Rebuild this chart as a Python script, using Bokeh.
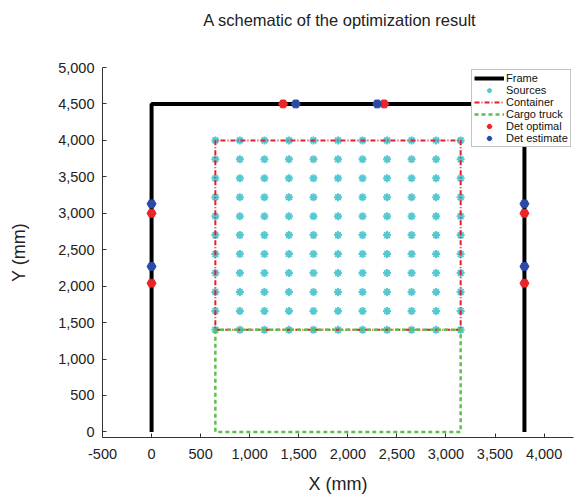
from bokeh.plotting import figure
from bokeh.models import Range1d, NumeralTickFormatter, FixedTicker, Legend, LegendItem, Div
from bokeh.layouts import column
from bokeh.embed import file_html
from bokeh.resources import INLINE

# ---- data (mm) ----
frame_x = [0, 0, 3800, 3800]
frame_y = [0, 4500, 4500, 0]

container_x = [650, 3150, 3150, 650, 650]
container_y = [1400, 1400, 4000, 4000, 1400]

truck_x = [650, 650, 3150, 3150, 650]
truck_y = [1400, 0, 0, 1400, 1400]

src_x_levels = [650, 900, 1150, 1400, 1650, 1900, 2150, 2400, 2650, 2900, 3150]
src_y_levels = [1400, 1660, 1920, 2180, 2440, 2700, 2960, 3220, 3480, 3740, 4000]

det_opt_x = [1340, 2370, 0, 0, 3800, 3800]
det_opt_y = [4500, 4500, 3000, 2040, 3000, 2040]

det_est_x = [1470, 2300, 0, 0, 3800, 3800]
det_est_y = [4500, 4500, 3130, 2270, 3130, 2270]

x_ticks = [-500, 0, 500, 1000, 1500, 2000, 2500, 3000, 3500, 4000]
y_ticks = [0, 500, 1000, 1500, 2000, 2500, 3000, 3500, 4000, 4500, 5000]

src_x = [x for y in src_y_levels for x in src_x_levels]
src_y = [y for y in src_y_levels for x in src_x_levels]

FONT = "Liberation Sans"
TITLE_H = 40

p = figure(width=583, height=499 - TITLE_H, output_backend="svg", toolbar_location=None,
           x_range=Range1d(-500, 4300), y_range=Range1d(-77, 5000),
           min_border_left=102, min_border_right=10, min_border_top=67 - TITLE_H,
           min_border_bottom=62)

p.outline_line_color = None
p.xgrid.visible = False
p.ygrid.visible = False
p.background_fill_color = "white"
p.border_fill_color = "white"

for ax, ticks in ((p.xaxis[0], x_ticks), (p.yaxis[0], y_ticks)):
    ax.ticker = FixedTicker(ticks=ticks)
    ax.formatter = NumeralTickFormatter(format="0,0")
    ax.major_tick_in = 4
    ax.major_tick_out = 0
    ax.minor_tick_line_color = None
    ax.axis_line_color = "#333333"
    ax.major_tick_line_color = "#333333"
    ax.major_label_text_font = FONT
    ax.major_label_text_font_size = "14.5px"
    ax.major_label_text_color = "#222222"
    ax.axis_label_text_font = FONT
    ax.axis_label_text_font_size = "18px"
    ax.axis_label_text_font_style = "normal"
    ax.axis_label_text_color = "#222222"

p.xaxis.axis_label = "X (mm)"
p.yaxis.axis_label = "Y (mm)"
p.xaxis.major_label_standoff = 11
p.yaxis.major_label_standoff = 8
p.xaxis.axis_label_standoff = 12
p.yaxis.axis_label_standoff = 26

r_frame = p.line(frame_x, frame_y, line_color="black", line_width=4)
r_src = p.scatter(src_x, src_y, marker="asterisk", size=8, line_color="#55c8d2", line_width=2)
r_cont = p.line(container_x, container_y, line_color="#e02030", line_width=2, line_dash="5 2 1 2")
r_truck = p.line(truck_x, truck_y, line_color="#5cc04a", line_width=2.5, line_dash="4 3")
r_opt = p.scatter(det_opt_x, det_opt_y, marker="hex", size=9, fill_color="#e8262a", line_color="#e8262a")
r_est = p.scatter(det_est_x, det_est_y, marker="hex", size=9, fill_color="#2a4aa8", line_color="#2a4aa8")

legend = Legend(items=[
    LegendItem(label="Frame", renderers=[r_frame]),
    LegendItem(label="Sources", renderers=[r_src]),
    LegendItem(label="Container", renderers=[r_cont]),
    LegendItem(label="Cargo truck", renderers=[r_truck]),
    LegendItem(label="Det optimal", renderers=[r_opt]),
    LegendItem(label="Det estimate", renderers=[r_est]),
], location=(369, 290))
legend.label_text_font = FONT
legend.label_text_font_size = "11px"
legend.label_text_color = "#111111"
legend.label_height = 12
legend.glyph_height = 12
legend.glyph_width = 30
legend.label_standoff = 2
legend.spacing = 0
legend.padding = 2
legend.margin = 0
legend.border_line_color = "#888888"
legend.border_line_width = 1
legend.background_fill_color = "white"
legend.background_fill_alpha = 1
p.add_layout(legend, "center")

title_div = Div(text="A schematic of the optimization result", width=471, height=TITLE_H,
                margin=(0, 0, 0, 104),
                styles={"font-family": FONT, "font-size": "16.5px", "color": "#222222",
                        "text-align": "center", "line-height": f"{TITLE_H}px",
                        "white-space": "nowrap"})

layout = column(title_div, p, spacing=0)

open("out.html", "w").write(file_html(layout, INLINE))
